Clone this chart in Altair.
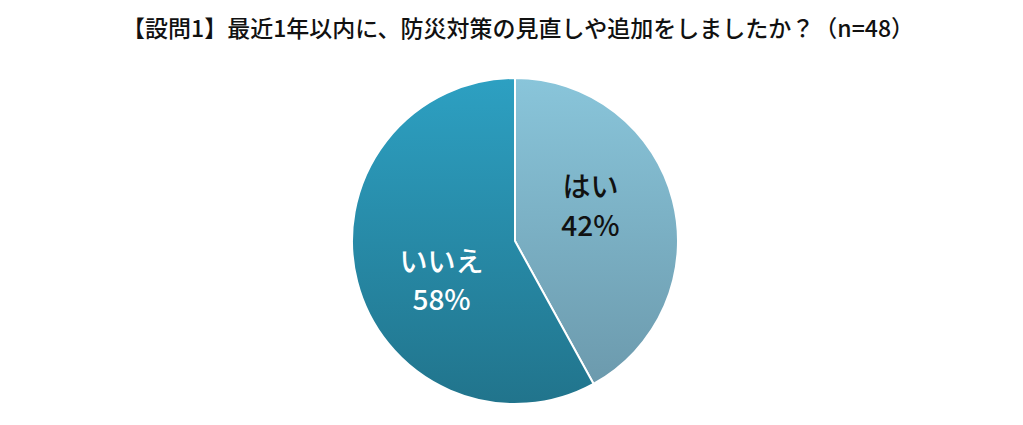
import altair as alt
import pandas as pd

labels = ["はい", "いいえ"]
values = [42, 58]
pct_text = ["42%", "58%"]
title_text = "【設問1】最近1年以内に、防災対策の見直しや追加をしましたか？（n=48）"

df = pd.DataFrame({"label": labels, "value": values, "pct": pct_text, "order": [0, 1]})

grad_yes = {"gradient": "linear", "x1": 0, "y1": 0, "x2": 0, "y2": 1,
            "stops": [{"offset": 0, "color": "#89C5DA"}, {"offset": 1, "color": "#6C9AAD"}]}
grad_no = {"gradient": "linear", "x1": 0, "y1": 0, "x2": 0, "y2": 1,
           "stops": [{"offset": 0, "color": "#2DA0C2"}, {"offset": 1, "color": "#21748C"}]}

CX, CY, R = 507, 233, 163
FONT = "Noto Sans CJK JP"

pie = alt.Chart(df).mark_arc(outerRadius=R, stroke="white", strokeWidth=2).encode(
    theta=alt.Theta("value:Q", stack=True, scale=alt.Scale(domain=[0, 100])),
    order=alt.Order("order:Q"),
    x=alt.value(CX), y=alt.value(CY),
    fill=alt.condition(alt.datum.label == "はい", alt.value(grad_yes), alt.value(grad_no)),
)

text_base = alt.Chart(df).transform_window(
    cum="sum(value)", sort=[alt.SortField("order")]
).transform_calculate(
    mid="datum.cum - datum.value / 2"
)

def label_layer(name, field, color, dx, dy):
    return text_base.transform_filter(alt.datum.label == name).mark_text(
        radius=81, fontSize=28, font=FONT, fontWeight=500, color=color,
        dx=dx, dy=dy,
    ).encode(
        theta=alt.Theta("mid:Q", scale=alt.Scale(domain=[0, 100])),
        x=alt.value(CX), y=alt.value(CY),
        text=f"{field}:N",
    )

layers = [
    pie,
    label_layer("はい", "label", "#111111", -3, -32),
    label_layer("はい", "pct", "#111111", -3, 7),
    label_layer("いいえ", "label", "white", 5, 3),
    label_layer("いいえ", "pct", "white", 5, 41),
]

title = alt.Chart(pd.DataFrame({"t": [title_text]})).mark_text(
    fontSize=23, font=FONT, fontWeight=500, color="#111111"
).encode(x=alt.value(510), y=alt.value(22), text="t:N")

chart = alt.layer(*layers, title).properties(
    width=1007, height=409, padding=0, autosize="none", background="white"
).configure_view(stroke=None, strokeWidth=0)

chart.save("out.html", embed_options={"renderer": "svg", "actions": False})
